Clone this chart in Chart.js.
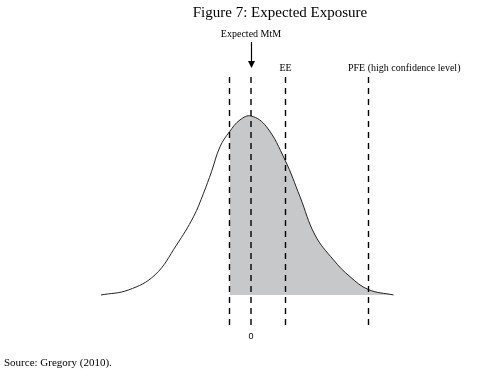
<!DOCTYPE html>
<html>
<head>
<meta charset="utf-8">
<script src="https://cdn.jsdelivr.net/npm/chart.js@4.4.1/dist/chart.umd.min.js"></script>
<style>
  body { margin: 0; background: #fff; }
  #wrap { width: 477px; height: 373px; }
</style>
</head>
<body>
<div id="wrap"><canvas id="eeChart" width="477" height="373"></canvas></div>
<script>
// Exposure distribution (x = exposure, 0 = expected MtM; y = density, peak = 1)
const curveX = [-3.0, -2.45, -1.92, -1.49, -1.15, -0.95, -0.79, -0.62, -0.43, -0.22, 0, 0.31, 0.68, 0.98, 1.28, 1.65, 1.98, 2.35, 2.85];
const curveY = [0, 0.028, 0.112, 0.279, 0.437, 0.568, 0.689, 0.828, 0.912, 0.978, 1, 0.94, 0.754, 0.549, 0.335, 0.196, 0.102, 0.03, 0];

// vertical reference lines: positive-exposure cut-off, expected MtM, EE, PFE
const markerX = [-0.43, 0, 0.69, 2.35];
const markerTop = 1.218;
const markerBottom = -0.173;

const shadeStart = curveX.indexOf(-0.43);

document.addEventListener('DOMContentLoaded', function() {

  const curvePts = curveX.map((x, i) => ({ x: x, y: curveY[i] }));
  const shadePts = curvePts.slice(shadeStart);

  const markerSets = markerX.map(x => ({
    data: [{ x: x, y: markerTop }, { x: x, y: markerBottom }],
    borderColor: '#000',
    borderWidth: 1.4,
    borderDash: [6, 5],
    pointRadius: 0,
    fill: false,
    order: 0
  }));

  // titles, labels and the arrow
  const textPlugin = {
    id: 'textPlugin',
    afterDraw(chart) {
      const ctx = chart.ctx;
      const xs = chart.scales.x;
      ctx.save();
      ctx.fillStyle = '#000';
      ctx.textBaseline = 'alphabetic';

      ctx.font = '15px "Liberation Serif"';
      ctx.textAlign = 'center';
      ctx.fillText('Figure 7: Expected Exposure', 280, 17);

      ctx.font = '10px "Liberation Serif"';
      ctx.fillText('Expected MtM', xs.getPixelForValue(markerX[1]), 37);
      ctx.fillText('EE', xs.getPixelForValue(markerX[2]), 71);
      ctx.textAlign = 'left';
      ctx.fillText('PFE (high confidence level)', 348, 71);

      ctx.font = '11px "Liberation Serif"';
      ctx.fillText('Source: Gregory (2010).', 4, 366);

      ctx.font = '9px "Liberation Sans"';
      ctx.textAlign = 'center';
      ctx.fillText('0', xs.getPixelForValue(0), 339);

      // arrow to expected MtM
      const ax = Math.round(xs.getPixelForValue(markerX[1])) + 0.5;
      ctx.strokeStyle = '#000';
      ctx.lineWidth = 1.2;
      ctx.beginPath();
      ctx.moveTo(ax, 42);
      ctx.lineTo(ax, 62);
      ctx.stroke();
      ctx.beginPath();
      ctx.moveTo(ax - 3.5, 61);
      ctx.lineTo(ax + 3.5, 61);
      ctx.lineTo(ax, 68);
      ctx.closePath();
      ctx.fill();
      ctx.restore();
    }
  };

  const ctx = document.getElementById('eeChart').getContext('2d');
  const eeChart = new Chart(ctx, {
    type: 'line',
    data: {
      datasets: markerSets.concat([
        {
          data: curvePts,
          borderColor: '#222',
          borderWidth: 1,
          pointRadius: 0,
          fill: false,
          tension: 0.4,
          order: 1
        },
        {
          data: shadePts,
          borderWidth: 0,
          borderColor: 'rgba(0,0,0,0)',
          backgroundColor: '#c7c8ca',
          pointRadius: 0,
          fill: 'origin',
          tension: 0.4,
          order: 2
        }
      ])
    },
    options: {
      responsive: false,
      animation: false,
      layout: { padding: 0 },
      plugins: {
        legend: { display: false },
        title: { display: false },
        tooltip: { enabled: false }
      },
      scales: {
        x: { type: 'linear', display: false, min: -5.02, max: 4.52 },
        y: { type: 'linear', display: false, min: -0.436, max: 1.648 }
      }
    },
    plugins: [textPlugin]
  });
});
</script>
</body>
</html>
